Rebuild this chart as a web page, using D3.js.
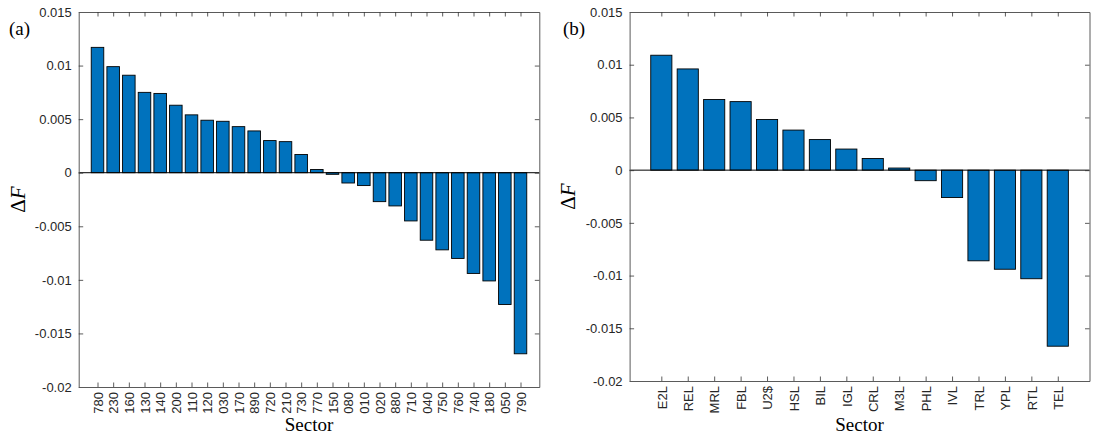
<!DOCTYPE html>
<html>
<head>
<meta charset="utf-8">
<script src="https://cdn.jsdelivr.net/npm/d3@7/dist/d3.min.js"></script>
<style>
    html, body { margin: 0; padding: 0; background: #fff; }
    svg { display: block; }
    .tick text { font-family: "Liberation Sans", Arial, sans-serif; font-size: 13px; fill: #262626; }
    .lab { font-family: "Liberation Serif", "Times New Roman", serif; fill: #000; }
</style>
</head>
<body>
<div id="chart"></div>
<script>
// panel (a)
var sectorsA = ["780","230","160","130","140","200","110","120","030","170","890","720","210","730",
    "770","150","080","010","020","880","710","040","750","760","740","180","050","790"];
var valuesA = [0.0117, 0.0099, 0.0091, 0.0075, 0.0074, 0.0063, 0.0054, 0.0049, 0.0048, 0.0043, 0.0039, 0.0030, 0.0029, 0.0017,
    0.0003, -0.00015, -0.00096, -0.0012, -0.0027, -0.0031, -0.0045, -0.0063, -0.0072, -0.0080, -0.0094, -0.0101, -0.0123, -0.0169];

// panel (b)
var sectorsB = ["E2L","REL","MRL","FBL","U2$","HSL","BIL","IGL","CRL","M3L","PHL","IVL","TRL","YPL","RTL","TEL"];
var valuesB = [0.0109, 0.0096, 0.0067, 0.0065, 0.0048, 0.0038, 0.0029, 0.0020, 0.0011, 0.0002,
    -0.0010, -0.0026, -0.0086, -0.0094, -0.0103, -0.0167];

// y axis
var yTicks = [0.015, 0.01, 0.005, 0, -0.005, -0.01, -0.015, -0.02];
var yTickLabels = ["0.015", "0.01", "0.005", "0", "-0.005", "-0.01", "-0.015", "-0.02"];

var W = 1093, H = 437;
var svg = d3.select("#chart").append("svg").attr("width", W).attr("height", H);

function drawPanel(opt){
    var n = opt.names.length;
    var x = d3.scaleLinear().domain([-0.2, n + 1.2]).range([opt.left, opt.right]);
    var y = d3.scaleLinear().domain([-0.02, 0.015]).range([opt.bottom, opt.top]);
    var g = svg.append("g");
    var tick = 4.5;
    var axisColor = "#5a5a5a";

    // bars
    var bw = x(0.8) - x(0);
    g.selectAll("rect.bar").data(opt.values).enter().append("rect")
        .attr("class", "bar")
        .attr("x", function(d, i){ return x(i + 1) - bw / 2; })
        .attr("width", bw)
        .attr("y", function(d){ return y(Math.max(d, 0)); })
        .attr("height", function(d){ return Math.abs(y(d) - y(0)); })
        .attr("fill", "#0072BD")
        .attr("stroke", "#000")
        .attr("stroke-width", 0.9);

    // baseline
    g.append("line")
        .attr("x1", opt.left).attr("x2", opt.right)
        .attr("y1", y(0)).attr("y2", y(0))
        .attr("stroke", "#000").attr("stroke-width", 1);

    var idx = d3.range(1, n + 1);
    var fmtY = function(d){ return yTickLabels[yTicks.indexOf(d)]; };

    var gl = g.append("g").attr("transform", "translate(" + opt.left + ",0)")
        .call(d3.axisLeft(y).tickValues(yTicks).tickFormat(fmtY).tickSizeInner(-tick).tickSizeOuter(0).tickPadding(7));
    var gr = g.append("g").attr("transform", "translate(" + opt.right + ",0)")
        .call(d3.axisRight(y).tickValues(yTicks).tickFormat("").tickSizeInner(-tick).tickSizeOuter(0));
    var gb = g.append("g").attr("transform", "translate(0," + opt.bottom + ")")
        .call(d3.axisBottom(x).tickValues(idx).tickFormat(function(d){ return opt.names[d - 1]; })
            .tickSizeInner(-tick).tickSizeOuter(0));
    var gt = g.append("g").attr("transform", "translate(0," + opt.top + ")")
        .call(d3.axisTop(x).tickValues(idx).tickFormat("").tickSizeInner(-tick).tickSizeOuter(0));

    gb.selectAll(".tick text")
        .attr("transform", "rotate(-90)")
        .attr("x", -5).attr("y", 0).attr("dy", "0.36em")
        .style("text-anchor", "end");

    [gl, gr, gb, gt].forEach(function(a){
        a.select(".domain").attr("stroke", axisColor).attr("stroke-width", 1);
        a.selectAll(".tick line").attr("stroke", "#333").attr("stroke-width", 0.8);
    });

    // labels
    svg.append("text").attr("class", "lab")
        .attr("x", opt.tagX).attr("y", 35)
        .style("font-size", "19px")
        .text(opt.tag);

    var yl = svg.append("text").attr("class", "lab")
        .attr("transform", "translate(" + opt.yLabelX + "," + ((opt.top + opt.bottom) / 2) + ") rotate(-90)")
        .style("text-anchor", "middle")
        .style("font-size", "21px");
    yl.append("tspan").text("\u0394");
    yl.append("tspan").style("font-style", "italic").text("F");

    svg.append("text").attr("class", "lab")
        .attr("x", (opt.left + opt.right) / 2).attr("y", 431)
        .style("font-size", "19px")
        .style("text-anchor", "middle")
        .text("Sector");
}

drawPanel({names: sectorsA, values: valuesA, left: 78.7, right: 539.3, top: 12, bottom: 387,
    tag: "(a)", tagX: 9, yLabelX: 25});
drawPanel({names: sectorsB, values: valuesB, left: 629.6, right: 1089.5, top: 12, bottom: 381,
    tag: "(b)", tagX: 563, yLabelX: 575});
</script>
</body>
</html>
